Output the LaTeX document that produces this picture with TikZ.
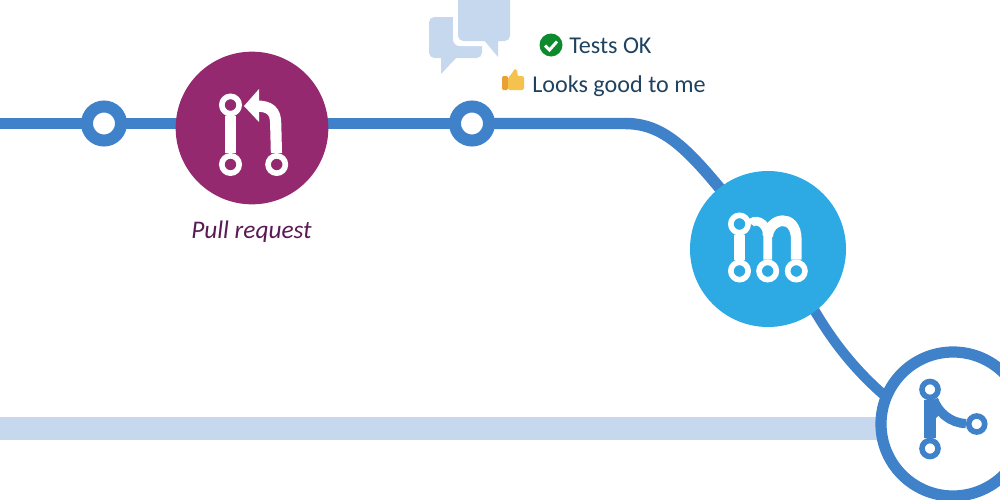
\documentclass[tikz,border=0pt]{standalone}
\usepackage{fontspec}
\setmainfont{Carlito}
\usetikzlibrary{backgrounds}
\definecolor{track}{HTML}{3F82C9}
\definecolor{pale}{HTML}{C5D8EE}
\definecolor{prpl}{HTML}{95296F}
\definecolor{sky}{HTML}{2DA9E4}
\definecolor{ink}{HTML}{1F4260}
\definecolor{prtxt}{HTML}{5A1A55}
\definecolor{okgreen}{HTML}{0C8A2C}
\definecolor{thumb}{HTML}{F6C24E}
\definecolor{thumbd}{HTML}{E9A136}
\tikzset{
  x=0.75pt,y=-0.75pt,
  ring/.style={circle,draw=track,fill=white,line width=9pt,minimum size=25.5pt,inner sep=0pt},
  hub/.style={circle,fill=#1,draw=none,minimum size=115pt,inner sep=0pt},
  dotw/.style={circle,draw=white,fill=#1,line width=4.2pt,minimum size=13pt,inner sep=0pt},
  dotb/.style={circle,draw=track,fill=white,line width=4.2pt,minimum size=12pt,inner sep=0pt},
  line/.style={draw=track,line width=8.6pt},
  bar/.style={draw=pale,line width=17.5pt},
  wire/.style={draw=white,line width=8.4pt},
  wireb/.style={draw=track,line width=8.4pt},
  bubble/.style={fill=pale,draw=none,rounded corners=4pt},
  lab/.style={inner sep=0pt,anchor=base west,text=ink,font=\fontsize{18.1pt}{20pt}\selectfont},
}
\begin{document}
\begin{tikzpicture}
\useasboundingbox (0,0) rectangle (1000,500);
\clip (0,0) rectangle (1000,500);
% stations
\node[ring] (n1) at (104,123.5) {};
\node[hub=prpl,minimum size=114.5pt] (pr) at (252,128) {};
\node[ring] (n2) at (472,123.5) {};
\node[hub=sky,minimum size=117pt] (mr) at (768,249) {};
\node[circle,draw=track,fill=white,line width=8.4pt,minimum size=108pt,inner sep=0pt] (tg) at (953,424) {};
\coordinate (s1) at (0,123.5);
\coordinate (s2) at (0,428.5);
\coordinate (b1) at (625,123.5);
\coordinate (c1) at (672,123.5);
\coordinate (c2) at (698,160);
\coordinate (c3) at (838,350);
\coordinate (c4) at (862,377);
\coordinate (e1) at (892,402);
\begin{scope}[on background layer]
\draw[line] (s1) -- (n1.center);
\draw[line] (n1.center) -- (pr.center |- n1);
\draw[line] (pr.center |- n2) -- (n2.center);
\draw[line] (n2.center) -- (b1) .. controls (c1) and (c2) .. (mr.center);
\draw[line,line width=7.6pt] (mr.center) -- (mr.307) .. controls (c3) and (c4) .. (e1);
\draw[bar] (s2) -- (tg.center |- s2);
\end{scope}
% pull request icon
\node[dotw=prpl] (p1) at (230.5,105) {};
\node[dotw=prpl] (p2) at (230.5,164.5) {};
\node[dotw=prpl] (p3) at (276.7,164.5) {};
\draw[wire] (p1) -- (p2);
\draw[wire] (p3) -- (275.7,124) .. controls (275.7,111) and (270,106) .. (256,106);
\fill[white] (244,106) -- (259,89) -- (259,122) -- cycle;
\node[inner sep=0pt,anchor=base,text=prtxt,font=\fontsize{19pt}{20pt}\selectfont\itshape] (prl) at (251.5,238) {Pull request};
% merge train icon
\node[dotw=sky] (m1) at (739.5,224) {};
\node[dotw=sky] (m2) at (739.5,271) {};
\node[dotw=sky] (m3) at (767.7,271) {};
\node[dotw=sky] (m4) at (796.3,271) {};
\draw[wire] (m1) -- (m2);
\draw[wire,line width=6.5pt] (m1.east) .. controls (752,219) and (767.7,219) .. (767.7,238) -- (m3);
\draw[wire,line width=8pt] (767.7,236) .. controls (769,218) and (796.3,212) .. (796.3,240) -- (m4);
% target icon
\node[dotb] (t1) at (930,389.5) {};
\node[dotb] (t2) at (930,448.5) {};
\node[dotb] (t3) at (976.7,424) {};
\draw[wireb] (t1) -- (t2);
\draw[wireb,line width=7pt] (t1) .. controls (938,412) and (950,423) .. (t3);
\fill[track] (932,398) -- (944,410) -- (936,418) -- (932,418) -- cycle;
% speech bubbles
\fill[bubble] (429,17) rectangle (482,58);
\fill[pale] (441,56) -- (441,74) -- (458,56) -- cycle;
\fill[white,rounded corners=5pt] (453,-8) rectangle (515,46);
\fill[bubble] (458,-8) rectangle (510,41);
\fill[pale] (483,39) -- (498,57) -- (498,39) -- cycle;
% status rows
\fill[okgreen] (551,45) circle (11.5);
\draw[white,line width=2.2pt] (545,45.5) -- (549.5,50) -- (557,41.5);
\node[lab] (t) at (569,53.5) {Tests OK};
\fill[thumbd,rounded corners=1pt] (502,76) rectangle (508,90);
\fill[thumb,rounded corners=1.5pt] (508,77) -- (512,74) -- (514,69) -- (516,69) -- (518,72) -- (517,76) -- (524,76) -- (524,90) -- (508,90) -- cycle;
\node[lab] (l) at (532,92) {Looks good to me};
\end{tikzpicture}
\end{document}
